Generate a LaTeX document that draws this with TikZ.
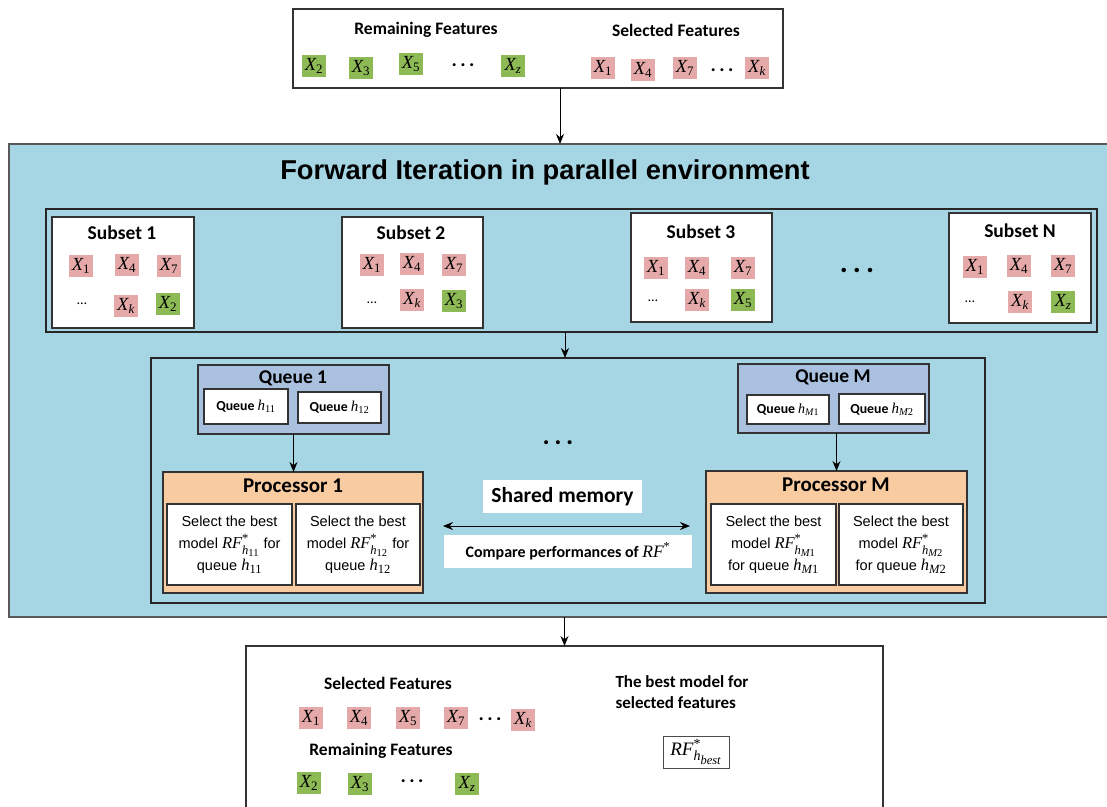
\RequirePackage{fix-cm}
\documentclass[tikz,border=0pt]{standalone}
\usepackage{amsmath}
\usepackage{fontspec}
\setmainfont{Carlito}
\newfontfamily\arialf{Liberation Sans}
\newfontfamily\timesf{Liberation Serif}
\usetikzlibrary{arrows.meta}
\DeclareMathSizes{16.5}{16.5}{12.5}{10.5}
\DeclareMathSizes{19}{19}{14}{12.5}
\DeclareMathSizes{15}{15}{10.5}{8.5}
\DeclareMathSizes{14}{14}{10}{8}
\definecolor{bgblue}{HTML}{A6D6E3}
\definecolor{pinkc}{HTML}{E5A9A9}
\definecolor{greenc}{HTML}{8DBA55}
\definecolor{queuec}{HTML}{A9C0DF}
\definecolor{procc}{HTML}{F9CBA1}
\definecolor{edgec}{HTML}{333333}
\newcommand\fsz[2]{\fontsize{#1}{#2}\selectfont}
\newcommand\ti[1]{\text{\timesf\mdseries\itshape #1}}
\newcommand\tu[1]{\text{\timesf\mdseries\upshape #1}}
\newcommand\rectnode[6]{\node[#1,anchor=north west,outer sep=0pt,inner sep=0pt,minimum width=#5-#3,minimum height=#6-#4] (#2) at (#3,#4) {};}
\tikzset{
  whitebox/.style={draw=edgec,line width=1.1pt,fill=white},
  framebox/.style={draw=black!85,line width=1.6pt},
  lbl/.style={font=\bfseries\fsz{17.5}{21}},
  sublbl/.style={font=\bfseries\fsz{19.5}{23}},
  sq/.style={minimum width=24,minimum height=22,inner sep=0pt,font=\fsz{18.5}{20}},
  pk/.style={sq,fill=pinkc},
  gr/.style={sq,fill=greenc},
  bigdots/.style={font=\bfseries\fsz{20}{24}},
  hugedots/.style={font=\bfseries\fsz{30}{34}},
  sdots/.style={font=\fsz{14}{16}},
  qlbl/.style={font=\bfseries\fsz{13.8}{16}},
  plbl/.style={font=\arialf\fsz{14.5}{22},align=center},
  arr/.style={-{Stealth[length=10pt,width=8pt]},line width=1pt,black},
  arrtwo/.style={{Stealth[length=10pt,width=8pt]}-{Stealth[length=10pt,width=8pt]},line width=1pt,black}
}
\newcommand\xnum[1]{$\ti{X}_{\tu{#1}}$}
\newcommand\xvar[1]{$\ti{X}_{\ti{#1}}$}
\newcommand\mth[2]{{\fsz{#1}{22}$#2$}}
\begin{document}
\begin{tikzpicture}[x=1pt,y=-1pt]
\useasboundingbox (0,0) rectangle (1107,806);
% ---------- top box ----------
\rectnode{whitebox,line width=1.2pt}{topbox}{293}{9}{783}{88}
\node[lbl] (remT) at (426,30) {Remaining Features};
\node[lbl] (selT) at (676,30) {Selected Features};
\node[gr] (tg1) at (314,66) {\xnum{2}};
\node[gr] (tg2) at (361,68) {\xnum{3}};
\node[gr] (tg3) at (411,64) {\xnum{5}};
\node[bigdots] (tgd) at (463,65) {.\,.\,.};
\node[gr] (tg4) at (513,66) {\xvar{z}};
\node[pk] (tp1) at (603,68) {\xnum{1}};
\node[pk] (tp2) at (643,70) {\xnum{4}};
\node[pk] (tp3) at (685,68) {\xnum{7}};
\node[bigdots] (tpd) at (722,70) {.\,.\,.};
\node[pk] (tp4) at (757,68) {\xvar{k}};
% ---------- main blue box ----------
\rectnode{fill=bgblue,draw=black!65,line width=1.2pt}{main}{9}{144}{1130}{617}
\node[font=\arialf\bfseries\fsz{27.3}{32}] (title) at (545,172) {Forward Iteration in parallel environment};
% subsets frame
\rectnode{framebox}{subsets}{46}{209}{1097}{332}
% Subset 1
\rectnode{whitebox}{sub1}{52}{217}{194}{328}
\node[sublbl] (s1t) at (122,233) {Subset 1};
\node[pk] (s1a) at (81,266) {\xnum{1}};
\node[pk] (s1b) at (127,265) {\xnum{4}};
\node[pk] (s1c) at (169,266) {\xnum{7}};
\node[sdots] (s1d) at (82,304) {\dots};
\node[pk] (s1e) at (126,306) {\xvar{k}};
\node[gr] (s1f) at (168,304) {\xnum{2}};
% Subset 2
\rectnode{whitebox}{sub2}{342}{217}{483}{328}
\node[sublbl] (s2t) at (411,233) {Subset 2};
\node[pk] (s2a) at (372,265) {\xnum{1}};
\node[pk] (s2b) at (412,264) {\xnum{4}};
\node[pk] (s2c) at (454,265) {\xnum{7}};
\node[sdots] (s2d) at (372,303) {\dots};
\node[pk] (s2e) at (412,300) {\xvar{k}};
\node[gr] (s2f) at (454,301) {\xnum{3}};
% Subset 3
\rectnode{whitebox}{sub3}{631}{213}{772}{322}
\node[sublbl] (s3t) at (701,232) {Subset 3};
\node[pk] (s3a) at (656,268) {\xnum{1}};
\node[pk] (s3b) at (697,268) {\xnum{4}};
\node[pk] (s3c) at (743,268) {\xnum{7}};
\node[sdots] (s3d) at (653,301) {\dots};
\node[pk] (s3e) at (697,300) {\xvar{k}};
\node[gr] (s3f) at (743,300) {\xnum{5}};
\node[hugedots] (subdots) at (857,270) {.\,.\,.};
% Subset N
\rectnode{whitebox}{subN}{949}{213}{1091}{323}
\node[sublbl] (sNt) at (1020,231) {Subset N};
\node[pk] (sNa) at (975,267) {\xnum{1}};
\node[pk] (sNb) at (1019,266) {\xnum{4}};
\node[pk] (sNc) at (1063,266) {\xnum{7}};
\node[sdots] (sNd) at (970,302) {\dots};
\node[pk] (sNe) at (1020,302) {\xvar{k}};
\node[gr] (sNf) at (1063,302) {\xvar{z}};
% ---------- inner frame ----------
\rectnode{framebox}{inner}{151}{358}{985}{603}
% Queue 1
\rectnode{fill=queuec,draw=edgec,line width=1.1pt}{q1}{198}{365}{389}{434}
\node[sublbl] (q1t) at (293,378) {Queue 1};
\rectnode{whitebox}{q1a}{204}{389}{288}{424}
\node[qlbl] (q1at) at (q1a) {Queue \mth{15}{\ti{h}_{\tu{11}}}};
\rectnode{whitebox}{q1b}{298}{392}{381}{423}
\node[qlbl] (q1bt) at (q1b) {Queue \mth{15}{\ti{h}_{\tu{12}}}};
% Queue M
\rectnode{fill=queuec,draw=edgec,line width=1.1pt}{qM}{738}{364}{929}{433}
\node[sublbl] (qMt) at (833,377) {Queue M};
\rectnode{whitebox}{qMa}{747}{395}{829}{424}
\node[qlbl] (qMat) at (qMa) {Queue \mth{14}{\ti{h}_{\ti{M}\tu{1}}}};
\rectnode{whitebox}{qMb}{839}{394}{925}{424}
\node[qlbl] (qMbt) at (qMb) {Queue \mth{15}{\ti{h}_{\ti{M}\tu{2}}}};
% Processor 1
\rectnode{fill=procc,draw=edgec,line width=1.1pt}{p1}{163}{472}{423}{593}
\node[font=\bfseries\fsz{21}{25}] (p1t) at (293,486) {Processor 1};
\rectnode{whitebox}{p1a}{167}{504}{292}{585}
\node[plbl] (p1at) at (229.5,545) {Select the best\\model \mth{16.5}{\ti{RF}^{\tu{*}}_{\ti{h}_{\tu{11}}}} for\\queue \mth{16.5}{\ti{h}_{\tu{11}}}};
\rectnode{whitebox}{p1b}{296}{504}{420}{585}
\node[plbl] (p1bt) at (358,545) {Select the best\\model \mth{16.5}{\ti{RF}^{\tu{*}}_{\ti{h}_{\tu{12}}}} for\\queue \mth{16.5}{\ti{h}_{\tu{12}}}};
% Processor M
\rectnode{fill=procc,draw=edgec,line width=1.1pt}{pM}{706}{471}{967}{593}
\node[font=\bfseries\fsz{21}{25}] (pMt) at (836,485) {Processor M};
\rectnode{whitebox}{pMa}{711}{504}{836}{585}
\node[plbl] (pMat) at (773.5,545) {Select the best\\model \mth{16.5}{\ti{RF}^{\tu{*}}_{\ti{h}_{\ti{M}\tu{1}}}}\\for queue \mth{16.5}{\ti{h}_{\ti{M}\tu{1}}}};
\rectnode{whitebox}{pMb}{839}{504}{963}{585}
\node[plbl] (pMbt) at (901,545) {Select the best\\model \mth{16.5}{\ti{RF}^{\tu{*}}_{\ti{h}_{\ti{M}\tu{2}}}}\\for queue \mth{16.5}{\ti{h}_{\ti{M}\tu{2}}}};
% middle
\node[font=\bfseries\fsz{27}{30}] (middots) at (558,443) {.\,.\,.};
\rectnode{fill=white}{shm}{483}{480}{642}{513}
\node[font=\bfseries\fsz{21.5}{25}] (shmt) at (shm) {Shared memory};
\rectnode{fill=white}{cmp}{444}{535}{692}{568}
\node[font=\bfseries\fsz{16}{19}] (cmpt) at (cmp) {Compare performances of \mth{17.5}{\ti{RF}^{\tu{*}}}};
\coordinate (dl) at (443,526);
\coordinate (dr) at (690,526);
% ---------- bottom box ----------
\rectnode{whitebox,line width=1.2pt}{bottombox}{246}{646}{883}{840}
\node[lbl] (bselT) at (388,683) {Selected Features};
\node[pk] (bp1) at (311,718) {\xnum{1}};
\node[pk] (bp2) at (359,718) {\xnum{4}};
\node[pk] (bp3) at (408,718) {\xnum{5}};
\node[pk] (bp4) at (456,718) {\xnum{7}};
\node[bigdots] (bpd) at (490,719) {.\,.\,.};
\node[pk] (bp5) at (523,720) {\xvar{k}};
\node[lbl] (bremT) at (381,751) {Remaining Features};
\node[gr] (bg1) at (309,783) {\xnum{2}};
\node[gr] (bg2) at (360,784) {\xnum{3}};
\node[bigdots] (bgd) at (412,781) {.\,.\,.};
\node[gr] (bg3) at (467,784) {\xvar{z}};
\node[align=left,anchor=north west,font=\bfseries\fsz{17}{21}] (bestT) at (612,672) {The best model for\\selected features};
\rectnode{draw=black!70,line width=1pt,fill=white}{rfbox}{663}{736}{729}{768}
\node[font=\fsz{19}{22}] (rft) at (rfbox) {$\ti{RF}^{\tu{*}}_{\ti{h}_{\ti{best}}}$};
% ---------- connectors ----------
\draw[arr] ([xshift=22pt]topbox.south) -- ([xshift=22pt]topbox.south |- main.north);
\draw[arr] ([xshift=-6.5pt]subsets.south) -- ([xshift=-6.5pt]subsets.south |- inner.north);
\draw[arr] (q1.south) -- (q1.south |- p1.north);
\draw[arr] (qM.south -| pM.north) -- (pM.north);
\draw[arrtwo] (dl) -- (dr);
\draw[arr] (main.south -| bottombox.north) -- (bottombox.north);
\end{tikzpicture}
\end{document}
